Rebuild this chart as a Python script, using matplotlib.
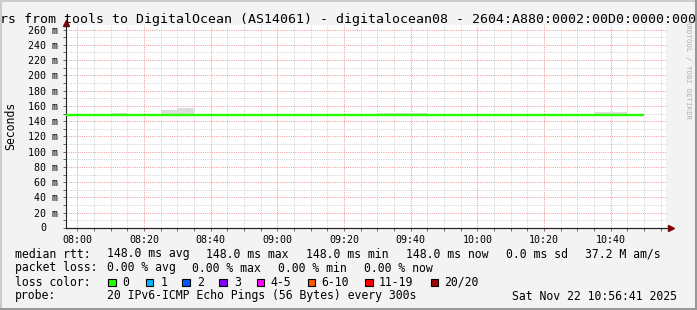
import datetime as dt
import numpy as np
import pandas as pd
import matplotlib
matplotlib.use("Agg")
import matplotlib.pyplot as plt
import matplotlib.dates as mdates
from matplotlib.patches import Rectangle
from matplotlib.lines import Line2D
from matplotlib.ticker import MultipleLocator, FuncFormatter

plt.rcParams['font.family'] = ['DejaVu Sans Mono']

# 5 minute steps, 07:55 .. 10:50 (35 bins)
bin_start = "2025-11-22 07:55"
n_bins = 35
median_rtt = [148.0, 148.0, 148.0, 148.0, 148.0, 148.0, 148.0,
              148.0, 148.0, 148.0, 148.0, 148.0, 148.0, 148.0,
              148.0, 148.0, 148.0, 148.0, 148.0, 148.0, 148.0,
              148.0, 148.0, 148.0, 148.0, 148.0, 148.0, 148.0,
              148.0, 148.0, 148.0, 148.0, 148.0, 148.0, 148.0]
smoke_lo = [147.5, 147.5, 147.5, 147.5, 147.5, 147.5, 147.5,
            147.5, 147.5, 147.5, 147.5, 147.5, 147.5, 147.5,
            147.5, 147.5, 147.5, 147.5, 147.5, 147.5, 147.5,
            147.5, 147.5, 147.5, 147.5, 147.5, 147.5, 147.5,
            147.5, 147.5, 147.5, 147.5, 147.5, 147.5, 147.5]
smoke_hi = [148.0, 148.0, 148.0, 151.0, 148.0, 148.0, 155.0,
            157.0, 148.0, 148.0, 148.0, 148.0, 148.0, 148.0,
            148.0, 148.0, 148.0, 148.0, 148.0, 151.0, 151.0,
            151.0, 148.0, 148.0, 148.0, 148.0, 148.0, 148.0,
            148.0, 148.0, 148.0, 148.0, 151.5, 151.5, 148.0]

view_start = dt.datetime(2025, 11, 22, 7, 56, 41)
view_end = dt.datetime(2025, 11, 22, 10, 56, 41)

title = "rs from tools to DigitalOcean (AS14061) - digitalocean08 - 2604:A880:0002:00D0:0000:000"
legend_rows = [
    ("median rtt:", [(107, "148.0 ms avg"), (206, "148.0 ms max"), (306, "148.0 ms min"),
                     (406, "148.0 ms now"), (506, "0.0 ms sd"), (585, "37.2 M am/s")]),
    ("packet loss:", [(107, "0.00 % avg"), (192, "0.00 % max"), (278, "0.00 % min"),
                      (364, "0.00 % now")]),
    ("loss color:", []),
    ("probe:", [(107, "20 IPv6-ICMP Echo Pings (56 Bytes) every 300s"),
                (512, "Sat Nov 22 10:56:41 2025")]),
]
loss_labels = ["0", "1", "2", "3", "4-5", "6-10", "11-19", "20/20"]
loss_colors = ["#26ff00", "#00b8ff", "#0059ff", "#7e00ff", "#ff00ff", "#ff5500", "#ff0000", "#a10000"]
loss_box_x = [108, 145.5, 182, 219, 256.5, 307.5, 365, 430.5]
loss_text_x = [122, 160.5, 197, 234, 270.5, 321.5, 379, 444.5]

W, H = 697, 310
fx = lambda p: p / W
fy = lambda p: 1 - p / H

fig = plt.figure(figsize=(W / 100, H / 100), dpi=100, facecolor="#f3f3f3")
ax = fig.add_axes([fx(66.3), fy(228), 600 / W, 203 / H], facecolor="white")

edges = mdates.date2num(pd.date_range(bin_start, periods=n_bins + 1, freq="5min").to_pydatetime())
ax.stairs(smoke_hi, edges, baseline=smoke_lo, fill=True, color="#dcdcdc", lw=0, zorder=2)
ax.stairs(median_rtt, edges, baseline=None, color="#26ff00", lw=1.7, zorder=3)

ax.set_xlim(mdates.date2num(view_start), mdates.date2num(view_end))
ax.set_ylim(0, 266)

ax.xaxis.set_major_locator(mdates.MinuteLocator(byminute=[0, 20, 40]))
ax.xaxis.set_minor_locator(mdates.MinuteLocator(byminute=range(0, 60, 5)))
ax.xaxis.set_major_formatter(mdates.DateFormatter("%H:%M"))
ax.yaxis.set_major_locator(MultipleLocator(20))
ax.yaxis.set_minor_locator(MultipleLocator(10))
# the zero label has no unit and sits under the digits of the other labels
ax.yaxis.set_major_formatter(FuncFormatter(lambda v, p: "" if v == 0 else f"{v:.0f} m"))
ax.text(-(6.3 + 14) / 600, 0, "0", transform=ax.get_yaxis_transform(), ha="right", va="center",
        fontsize=7.2)

ax.set_axisbelow(True)
ax.grid(which="minor", color="#d2d2d2", lw=0.72, ls=(0, (1, 1.2)))
ax.grid(which="major", color="#f09a9a", lw=0.72, ls=(0, (1, 1.2)))
ax.tick_params(which="both", length=2, width=0.7, color="#666666", labelsize=7.2, labelcolor="black")
ax.tick_params(axis="x", pad=3)
ax.tick_params(axis="y", pad=4)

for s in ["top", "right"]:
    ax.spines[s].set_visible(False)
for s in ["left", "bottom"]:
    ax.spines[s].set_color("#222222")
    ax.spines[s].set_linewidth(0.8)

# axis extension + arrows
ax.add_line(Line2D([0, 1.008], [0, 0], transform=ax.transAxes, color="#222222", lw=0.8, clip_on=False))
ax.plot([1.0 + 5 / 600], [0], marker=">", ms=5, color="#7f0000", transform=ax.transAxes, clip_on=False)
ax.plot([0], [1.0 + 2 / 203], marker="^", ms=5, color="#7f0000", transform=ax.transAxes, clip_on=False)

fig.text(fx(0), fy(23), title, ha="left", va="baseline", fontsize=9.5)
fig.text(fx(10.5), fy(126), "Seconds", rotation=90, ha="center", va="center", fontsize=8.3)
fig.text(fx(688), fy(70), "RRDTOOL / TOBI OETIKER", rotation=-90, ha="center", va="center",
         fontsize=5.4, color="#b0b0b0")

baselines = [257.5, 271.5, 285.5, 299.5]
for (head, items), yb in zip(legend_rows, baselines):
    fig.text(fx(15), fy(yb), head, ha="left", va="baseline", fontsize=8.3)
    for x, s in items:
        fig.text(fx(x), fy(yb), s, ha="left", va="baseline", fontsize=8.3)

for bx, tx, lab, col in zip(loss_box_x, loss_text_x, loss_labels, loss_colors):
    fig.add_artist(Rectangle((fx(bx), fy(286)), 7.5 / W, 7.5 / H, transform=fig.transFigure,
                             facecolor=col, edgecolor="black", lw=0.8))
    fig.text(fx(tx), fy(285.5), lab, ha="left", va="baseline", fontsize=8.3)

# 3d frame
fig.add_artist(Line2D([0, 1], [fy(1), fy(1)], transform=fig.transFigure, color="#cbcbcb", lw=1.4))
fig.add_artist(Line2D([fx(1), fx(1)], [0, 1], transform=fig.transFigure, color="#cbcbcb", lw=1.4))
fig.add_artist(Line2D([fx(696), fx(696)], [0, 1], transform=fig.transFigure, color="#999999", lw=1.5))
fig.add_artist(Line2D([0, 1], [fy(309), fy(309)], transform=fig.transFigure, color="#999999", lw=1.5))

fig.savefig("out.png", dpi=100, facecolor=fig.get_facecolor())
